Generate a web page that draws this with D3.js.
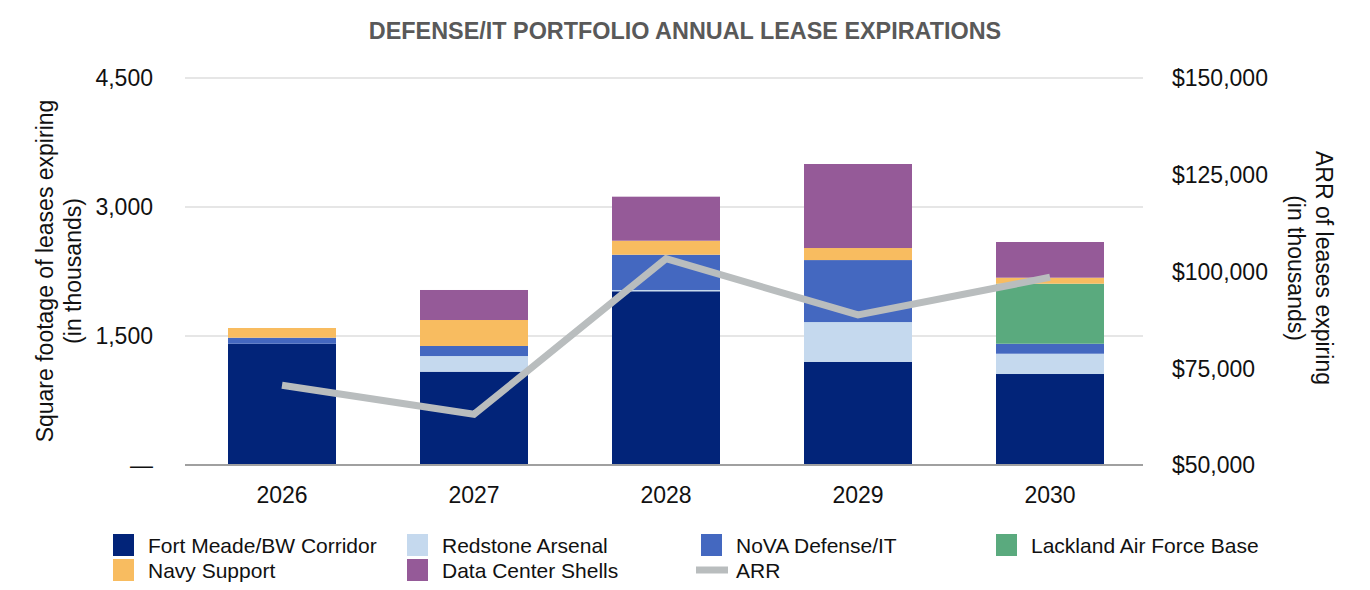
<!DOCTYPE html>
<html lang="en">
<head>
  <meta charset="UTF-8" />
  <title>Defense/IT Portfolio Annual Lease Expirations</title>
  <style>
    body { margin: 0; background: #fff; }
    svg { display: block; font-family: "Liberation Sans", Arial, sans-serif; }
    .grid line { stroke: #e6e6e6; stroke-width: 2px; }
    .tick-label { font-size: 23px; fill: #111; }
    .axis-title { font-size: 23px; fill: #111; }
    .legend-text { font-size: 21px; fill: #111; }
  </style>
</head>
<body>
  <svg width="1370" height="590"></svg>

  <script src="https://d3js.org/d3.v7.min.js"></script>
  <script>
    // values (sq ft in thousands, ARR in thousands of $)
    const years = ["2026", "2027", "2028", "2029", "2030"];
    const fortMeade   = [1410, 1085, 2020, 1200, 1058];
    const redstone    = [0, 182, 15, 462, 236];
    const nova        = [70, 117, 410, 721, 116];
    const lackland    = [0, 0, 0, 0, 698];
    const navySupport = [113, 302, 163, 140, 70];
    const dataCenter  = [0, 349, 512, 977, 415];
    const arr         = [70600, 63100, 103300, 88800, 98500];

    const leftTicks  = [0, 1500, 3000, 4500];
    const rightTicks = [50000, 75000, 100000, 125000, 150000];

    const series = [
      { key: "fortMeade",   name: "Fort Meade/BW Corridor",   values: fortMeade,   color: "#022479" },
      { key: "redstone",    name: "Redstone Arsenal",         values: redstone,    color: "#c5d9ee" },
      { key: "nova",        name: "NoVA Defense/IT",          values: nova,        color: "#4468c0" },
      { key: "lackland",    name: "Lackland Air Force Base",  values: lackland,    color: "#5aaa7e" },
      { key: "navySupport", name: "Navy Support",             values: navySupport, color: "#f8bc60" },
      { key: "dataCenter",  name: "Data Center Shells",       values: dataCenter,  color: "#955a98" }
    ];
    const arrColor = "#b9bdbe";

    const svg = d3.select("svg");

    const rows = years.map((y, i) => {
      const r = { year: y };
      series.forEach(s => { r[s.key] = s.values[i]; });
      return r;
    });

    const x = d3.scaleBand()
      .domain(years)
      .range([186, 1146])
      .paddingInner(0.4375)
      .paddingOuter(0.21875);

    const yLeft = d3.scaleLinear().domain([0, 4500]).range([465, 78]);
    const yRight = d3.scaleLinear().domain([50000, 150000]).range([465, 78]);

    // title
    svg.append("text")
      .attr("x", 685)
      .attr("y", 39)
      .attr("text-anchor", "middle")
      .style("font-size", "23.4px")
      .style("font-weight", "bold")
      .style("fill", "#595959")
      .text("DEFENSE/IT PORTFOLIO ANNUAL LEASE EXPIRATIONS");

    // gridlines
    svg.append("g")
      .attr("class", "grid")
      .selectAll("line")
      .data(leftTicks.filter(d => d > 0))
      .join("line")
      .attr("x1", 185)
      .attr("x2", 1143)
      .attr("y1", d => yLeft(d))
      .attr("y2", d => yLeft(d));

    // left axis labels
    svg.append("g")
      .selectAll("text")
      .data(leftTicks)
      .join("text")
      .attr("class", "tick-label")
      .attr("x", 153)
      .attr("y", d => yLeft(d))
      .attr("dy", "0.36em")
      .attr("text-anchor", "end")
      .text(d => d === 0 ? "\u2014" : d3.format(",")(d));

    // right axis labels
    svg.append("g")
      .selectAll("text")
      .data(rightTicks)
      .join("text")
      .attr("class", "tick-label")
      .attr("x", 1172)
      .attr("y", d => yRight(d))
      .attr("dy", "0.36em")
      .text(d => "$" + d3.format(",")(d));

    // stacked bars
    const stack = d3.stack().keys(series.map(s => s.key));
    const layers = stack(rows);

    svg.append("g")
      .selectAll("g")
      .data(layers)
      .join("g")
      .attr("fill", (d, i) => series[i].color)
      .selectAll("rect")
      .data(d => d)
      .join("rect")
      .attr("x", d => x(d.data.year))
      .attr("width", x.bandwidth())
      .attr("y", d => yLeft(d[1]))
      .attr("height", d => yLeft(d[0]) - yLeft(d[1]));

    // baseline
    svg.append("line")
      .attr("x1", 185)
      .attr("x2", 1143)
      .attr("y1", 465)
      .attr("y2", 465)
      .style("stroke", "#a0a0a0")
      .style("stroke-width", 2);

    // year labels
    svg.append("g")
      .selectAll("text")
      .data(years)
      .join("text")
      .attr("class", "tick-label")
      .attr("x", d => x(d) + x.bandwidth() / 2)
      .attr("y", 503)
      .attr("text-anchor", "middle")
      .text(d => d);

    // ARR line
    const line = d3.line()
      .x((d, i) => x(years[i]) + x.bandwidth() / 2)
      .y(d => yRight(d));

    svg.append("path")
      .datum(arr)
      .attr("d", line)
      .style("fill", "none")
      .style("stroke", arrColor)
      .style("stroke-width", 7);

    // axis titles
    const leftTitle = svg.append("text")
      .attr("class", "axis-title")
      .attr("text-anchor", "middle")
      .attr("transform", "translate(53,271) rotate(-90)");
    leftTitle.append("tspan").attr("x", 0).attr("y", 0).text("Square footage of leases expiring");
    leftTitle.append("tspan").attr("x", 0).attr("y", 28).text("(in thousands)");

    const rightTitle = svg.append("text")
      .attr("class", "axis-title")
      .attr("text-anchor", "middle")
      .attr("transform", "translate(1316,268) rotate(90)");
    rightTitle.append("tspan").attr("x", 0).attr("y", 0).text("ARR of leases expiring");
    rightTitle.append("tspan").attr("x", 0).attr("y", 28).text("(in thousands)");

    // legend
    const legendItems = series.map(s => ({ name: s.name, color: s.color, type: "rect" }))
      .concat([{ name: "ARR", color: arrColor, type: "line" }]);
    const colX = [113, 407, 701, 996];
    const rowY = [534, 559];

    const legend = svg.append("g")
      .selectAll("g")
      .data(legendItems)
      .join("g")
      .attr("transform", (d, i) => `translate(${colX[i % 4]},${rowY[Math.floor(i / 4)]})`);

    legend.filter(d => d.type === "rect")
      .append("rect")
      .attr("width", 21)
      .attr("height", 22)
      .attr("fill", d => d.color);

    legend.filter(d => d.type === "line")
      .append("line")
      .attr("x1", -5)
      .attr("x2", 27)
      .attr("y1", 11)
      .attr("y2", 11)
      .style("stroke", d => d.color)
      .style("stroke-width", 7);

    legend.append("text")
      .attr("class", "legend-text")
      .attr("x", 35)
      .attr("y", 11)
      .attr("dy", "0.36em")
      .text(d => d.name);
  </script>
</body>
</html>
